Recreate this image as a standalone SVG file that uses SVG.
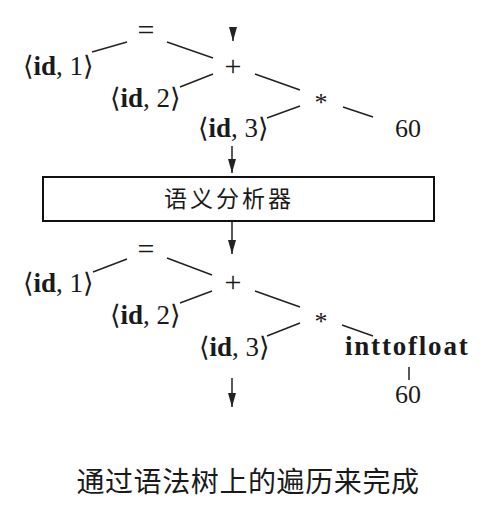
<svg xmlns="http://www.w3.org/2000/svg" width="495" height="506" viewBox="0 0 495 506">
<style>
.t{font-family:"Liberation Serif","DejaVu Serif",serif;font-size:27px;fill:#1a1a1a}
.o{font-family:"Liberation Serif","DejaVu Serif",serif;font-size:30px;fill:#1a1a1a}
.s{font-family:"Liberation Serif","DejaVu Serif",serif;font-size:26px;fill:#1a1a1a}
.b{font-weight:bold}
.c{font-family:"Noto Sans CJK SC",sans-serif;fill:#1a1a1a}
.e{stroke:#222;stroke-width:1.5;fill:none}
</style>
<defs>
<marker id="ah" markerWidth="14" markerHeight="8" refX="14" refY="4" orient="auto" markerUnits="userSpaceOnUse" viewBox="0 0 14 8">
<path d="M0,0 L14,4 L0,8 Z" fill="#222"/>
</marker>
</defs>
<rect width="495" height="506" fill="#fff"/>
<g id="connectors">
<line class="e" x1="233" y1="27" x2="233" y2="41" marker-end="url(#ah)"/>
<line class="e" x1="92" y1="52" x2="127" y2="42"/>
<line class="e" x1="167" y1="42" x2="213" y2="58"/>
<line class="e" x1="213" y1="74" x2="180" y2="87"/>
<line class="e" x1="255" y1="74" x2="300" y2="90"/>
<line class="e" x1="300" y1="106" x2="267" y2="118"/>
<line class="e" x1="343" y1="107" x2="373" y2="117"/>
<line class="e" x1="232" y1="146" x2="232" y2="173" marker-end="url(#ah)"/>
<line class="e" x1="232" y1="221" x2="232" y2="254" marker-end="url(#ah)"/>
<line class="e" x1="93" y1="272" x2="127" y2="259"/>
<line class="e" x1="167" y1="258" x2="212" y2="275"/>
<line class="e" x1="212" y1="291" x2="180" y2="303"/>
<line class="e" x1="255" y1="291" x2="300" y2="307"/>
<line class="e" x1="300" y1="323" x2="267" y2="336"/>
<line class="e" x1="342" y1="325" x2="373" y2="336"/>
<line class="e" x1="409" y1="367" x2="409" y2="380"/>
<line class="e" x1="232" y1="378" x2="232" y2="407" marker-end="url(#ah)"/>
</g>
<g id="top-tree">
<text class="o" x="146" y="40" text-anchor="middle">=</text>
<text class="t" x="23" y="75">⟨<tspan class="b">id</tspan>, 1⟩</text>
<text class="o" x="233" y="76" text-anchor="middle">+</text>
<text class="t" x="110" y="107">⟨<tspan class="b">id</tspan>, 2⟩</text>
<text class="s" x="321" y="111" text-anchor="middle">*</text>
<text class="t" x="198" y="137">⟨<tspan class="b">id</tspan>, 3⟩</text>
<text class="s" x="395" y="137">60</text>
</g>
<g id="analyzer">
<rect x="43" y="177" width="391" height="44" fill="#fff" stroke="#111" stroke-width="2"/>
<text class="c" x="229" y="207" font-size="23" letter-spacing="3" text-anchor="middle">语义分析器</text>
</g>
<g id="bottom-tree">
<text class="o" x="146" y="259" text-anchor="middle">=</text>
<text class="t" x="23" y="292">⟨<tspan class="b">id</tspan>, 1⟩</text>
<text class="o" x="233" y="292" text-anchor="middle">+</text>
<text class="t" x="110" y="324">⟨<tspan class="b">id</tspan>, 2⟩</text>
<text class="s" x="321" y="330" text-anchor="middle">*</text>
<text class="t" x="199" y="356">⟨<tspan class="b">id</tspan>, 3⟩</text>
<text class="t b" x="345" y="355" letter-spacing="1.8">inttofloat</text>
<text class="s" x="395" y="403">60</text>
</g>
<g id="caption">
<text class="c" x="248" y="492" font-size="28" letter-spacing="0.6" text-anchor="middle">通过语法树上的遍历来完成</text>
</g>
</svg>
